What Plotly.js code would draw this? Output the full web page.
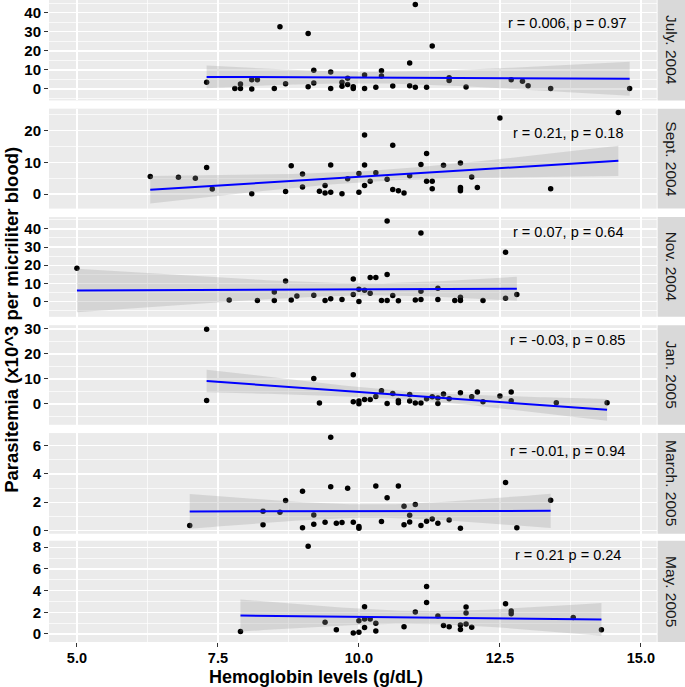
<!DOCTYPE html>
<html>
<head>
<meta charset="utf-8">
<script src="https://cdn.plot.ly/plotly-3.0.1.min.js"></script>
<style>
  html, body { margin: 0; padding: 0; background: #ffffff; }
  #chart { width: 685px; height: 687px; }
</style>
</head>
<body>
<div id="chart"></div>
<script>
// ---------------- DATA ----------------
const panelLabels = ["July. 2004", "Sept. 2004", "Nov. 2004", "Jan. 2005", "March. 2005", "May. 2005"];
const statLabels  = ["r = 0.006, p = 0.97", "r = 0.21, p = 0.18", "r = 0.07, p = 0.64",
                     "r = -0.03, p = 0.85", "r = -0.01, p = 0.94", "r = 0.21 p = 0.24"];

const xTickVals = [5, 7.5, 10, 12.5, 15];
const xTickText = ["5.0", "7.5", "10.0", "12.5", "15.0"];

const yTickVals = [
  [0, 10, 20, 30, 40],
  [0, 10, 20],
  [0, 10, 20, 30, 40],
  [0, 10, 20, 30],
  [0, 2, 4, 6],
  [0, 2, 4, 6, 8]
];
const yTickText = [
  ["0", "10", "20", "30", "40"],
  ["0", "10", "20"],
  ["0", "10", "20", "30", "40"],
  ["0", "10", "20", "30"],
  ["0", "2", "4", "6"],
  ["0", "2", "4", "6", "8"]
];

const julyHb   = [7.3, 7.8, 7.9, 7.9, 8.1, 8.1, 8.2, 8.5, 8.6, 8.7, 9.1, 9.1, 9.2, 9.2, 9.5, 9.5, 9.7, 9.7, 9.8, 9.8, 9.9, 9.9, 10.1, 10.1, 10.3, 10.4, 10.4, 10.6, 10.9, 10.9, 11.0, 11.0, 11.2, 11.3, 11.6, 11.6, 11.9, 12.7, 12.9, 13.0, 13.4, 14.8];
const julyPara = [3.5, 0.2, 0.2, 2.6, 0.0, 4.9, 4.9, 0.3, 32.6, 2.8, 29.1, 1.2, 9.8, 3.1, 8.9, 0.2, 3.5, 1.4, 5.6, 2.3, 1.2, 0.3, 7.3, 0.2, 0.9, 9.6, 6.8, 1.6, 13.6, 1.7, 44.2, 0.9, 0.9, 22.5, 5.9, 4.5, 1.0, 4.9, 4.0, 1.7, 0.2, 0.2];

const septHb   = [6.3, 6.8, 7.1, 7.3, 7.4, 8.1, 8.7, 8.8, 9.0, 9.0, 9.3, 9.4, 9.4, 9.5, 9.5, 9.7, 9.8, 10.0, 10.0, 10.1, 10.1, 10.1, 10.2, 10.3, 10.5, 10.6, 10.6, 10.7, 10.8, 10.9, 11.1, 11.2, 11.2, 11.3, 11.3, 11.5, 11.8, 11.8, 11.8, 11.8, 12.0, 12.1, 12.5, 13.4, 14.6];
const septPara = [5.5, 5.3, 5.0, 8.4, 1.6, 0.1, 0.8, 8.9, 6.3, 2.2, 0.9, 2.7, 0.3, 9.2, 0.6, 0.1, 4.8, 6.5, 0.6, 18.6, 9.2, 2.7, 4.0, 6.7, 4.7, 15.4, 1.4, 1.0, 0.3, 5.8, 9.3, 12.8, 4.0, 4.0, 1.7, 9.1, 9.8, 2.1, 1.6, 1.0, 5.4, 2.1, 24.0, 1.7, 25.7];

const novHb    = [5.0, 7.7, 8.2, 8.5, 8.5, 8.7, 8.8, 8.9, 9.2, 9.4, 9.5, 9.7, 9.9, 9.9, 10.0, 10.0, 10.1, 10.2, 10.2, 10.3, 10.4, 10.5, 10.5, 10.5, 10.6, 10.7, 11.0, 11.1, 11.1, 11.1, 11.4, 11.4, 11.7, 11.8, 11.8, 12.2, 12.6, 12.6, 12.8];
const novPara  = [18.3, 0.9, 0.6, 5.3, 0.6, 11.4, 0.9, 3.1, 3.5, 0.6, 1.5, 1.1, 12.5, 3.9, 6.8, 0.0, 6.2, 13.2, 4.6, 13.2, 0.6, 44.4, 14.9, 0.6, 3.3, 0.4, 0.9, 37.8, 5.7, 1.1, 7.3, 1.1, 0.6, 2.4, 0.6, 0.6, 27.2, 1.8, 3.9];

const janHb    = [7.3, 7.3, 9.2, 9.3, 9.9, 9.9, 10.0, 10.0, 10.1, 10.2, 10.3, 10.4, 10.5, 10.6, 10.7, 10.7, 10.9, 10.9, 11.0, 11.1, 11.2, 11.3, 11.4, 11.4, 11.5, 11.6, 11.8, 12.0, 12.1, 12.2, 12.5, 12.7, 12.7, 13.5, 14.4];
const janPara  = [29.9, 1.3, 10.1, 0.3, 11.6, 0.8, 1.1, 0.0, 1.7, 1.7, 2.9, 5.2, 0.1, 4.1, 1.3, 0.4, 3.7, 1.1, 0.3, 0.3, 2.0, 2.8, 2.3, 0.1, 3.9, 2.0, 4.4, 2.8, 4.7, 0.8, 3.1, 4.7, 1.2, 0.4, 0.4];

const marHb    = [7.0, 8.3, 8.3, 8.6, 8.7, 9.0, 9.0, 9.2, 9.2, 9.4, 9.5, 9.5, 9.6, 9.7, 9.8, 9.9, 10.0, 10.0, 10.3, 10.4, 10.5, 10.7, 10.8, 10.8, 10.9, 10.9, 11.0, 11.1, 11.2, 11.3, 11.4, 11.6, 11.8, 12.6, 12.8, 13.4];
const marPara  = [0.35, 1.36, 0.40, 1.29, 2.12, 2.78, 0.19, 1.10, 0.45, 0.59, 6.59, 3.10, 0.52, 0.56, 2.99, 0.59, 0.28, 0.16, 3.15, 0.64, 2.31, 3.15, 1.72, 0.40, 1.08, 0.61, 1.84, 0.35, 0.66, 0.82, 0.52, 0.75, 0.16, 3.39, 0.19, 2.14];

const mayHb    = [7.9, 9.1, 9.4, 9.6, 9.9, 10.0, 10.0, 10.1, 10.1, 10.1, 10.2, 10.3, 10.3, 10.8, 11.0, 11.2, 11.2, 11.4, 11.5, 11.6, 11.8, 11.8, 11.9, 11.9, 11.9, 12.0, 12.6, 12.7, 12.7, 13.8, 14.3];
const mayPara  = [0.24, 8.10, 1.09, 0.39, 0.09, 0.15, 1.21, 2.51, 1.39, 0.60, 1.39, 1.00, 0.27, 0.66, 2.02, 4.38, 2.90, 1.66, 0.79, 0.66, 0.42, 0.82, 2.48, 1.93, 0.91, 0.63, 2.78, 2.11, 1.87, 1.51, 0.39];

const hbSeries   = [julyHb, septHb, novHb, janHb, marHb, mayHb];
const paraSeries = [julyPara, septPara, novPara, janPara, marPara, mayPara];

// ---------------- statistics: lm fit with 95% confidence band ----------------
function tQuantile975(df) {
  const z = 1.959964;
  const g1 = (Math.pow(z, 3) + z) / 4;
  const g2 = (5 * Math.pow(z, 5) + 16 * Math.pow(z, 3) + 3 * z) / 96;
  const g3 = (3 * Math.pow(z, 7) + 19 * Math.pow(z, 5) + 17 * Math.pow(z, 3) - 15 * z) / 384;
  return z + g1 / df + g2 / (df * df) + g3 / (df * df * df);
}
function lmFit(x, y, nOut) {
  const n = x.length;
  let mx = 0, my = 0;
  for (let i = 0; i < n; i++) { mx += x[i]; my += y[i]; }
  mx /= n; my /= n;
  let sxx = 0, sxy = 0;
  for (let i = 0; i < n; i++) { sxx += (x[i] - mx) ** 2; sxy += (x[i] - mx) * (y[i] - my); }
  const b = sxy / sxx, a = my - b * mx;
  let sse = 0;
  for (let i = 0; i < n; i++) sse += (y[i] - a - b * x[i]) ** 2;
  const s = Math.sqrt(sse / (n - 2));
  const t = tQuantile975(n - 2);
  const xmin = Math.min(...x), xmax = Math.max(...x);
  const xs = [], fitY = [], lo = [], hi = [];
  for (let k = 0; k < nOut; k++) {
    const xv = xmin + (xmax - xmin) * k / (nOut - 1);
    const yv = a + b * xv;
    const se = s * Math.sqrt(1 / n + (xv - mx) ** 2 / sxx);
    xs.push(xv); fitY.push(yv); lo.push(yv - t * se); hi.push(yv + t * se);
  }
  return { xs, fitY, lo, hi };
}

// ---------------- layout geometry ----------------
const W = 685, H = 687;
const ML = 49, MB = 44.7;
const plotW = W - ML, plotH = H - MB;
const panelPx = [[0, 100.5], [108.7, 208.7], [217.2, 317], [325.3, 425], [433.3, 534], [541, 642.3]];
const yRanges = [[-6.0, 46.6], [-4.6, 26.95], [-8.4, 46.5], [-8.4, 31.5], [-0.23, 6.89], [-0.74, 8.6]];
const yMinor  = [5, 5, 5, 5, 1, 1];
const statY   = [34.7, 19.2, 38.5, 25.6, 5.65, 7.3];
const xDomEnd = (656.7 - ML) / plotW;
const stripX0 = (657.6 - ML) / plotW;
const xRange = [4.505, 15.28];

const FONT = "Liberation Sans, Arial, Helvetica, sans-serif";

const traces = [];
const layout = {
  width: W, height: H,
  margin: { l: ML, r: 0, t: 0, b: MB, pad: 0 },
  paper_bgcolor: "#FFFFFF",
  plot_bgcolor: "#EBEBEB",
  showlegend: false,
  hovermode: false,
  font: { family: FONT, color: "#000000" },
  shapes: [],
  annotations: []
};

for (let i = 0; i < 6; i++) {
  const sfx = i === 0 ? "" : String(i + 1);
  const xa = "x" + sfx, ya = "y" + sfx;
  const dTop = 1 - panelPx[i][0] / plotH, dBot = 1 - panelPx[i][1] / plotH;
  const isBottom = (i === 5);

  layout["xaxis" + sfx] = {
    domain: [0, xDomEnd],
    range: xRange,
    anchor: ya,
    tickmode: "array",
    tickvals: xTickVals,
    ticktext: xTickText,
    showticklabels: isBottom,
    ticks: isBottom ? "outside" : "",
    ticklen: 3.5, tickwidth: 1, tickcolor: "#333333",
    ticklabelstandoff: -1,
    tickfont: { family: FONT, size: 14.5, color: "#000000", weight: "bold" },
    showgrid: true, gridcolor: "#FFFFFF", gridwidth: 1.4,
    minor: { tickmode: "linear", tick0: 5, dtick: 1.25, showgrid: true, gridcolor: "#FFFFFF", gridwidth: 0.7, ticks: "" },
    zeroline: false, showline: false, fixedrange: true
  };
  layout["yaxis" + sfx] = {
    domain: [dBot, dTop],
    range: yRanges[i],
    anchor: xa,
    tickmode: "array",
    tickvals: yTickVals[i],
    ticktext: yTickText[i],
    ticks: "outside",
    ticklen: 4, tickwidth: 1, tickcolor: "#333333",
    tickfont: { family: FONT, size: 15, color: "#000000", weight: "bold" },
    showgrid: true, gridcolor: "#FFFFFF", gridwidth: 1.4,
    minor: { tickmode: "linear", tick0: 0, dtick: yMinor[i], showgrid: true, gridcolor: "#FFFFFF", gridwidth: 0.7, ticks: "" },
    zeroline: false, showline: false, fixedrange: true
  };

  const x = hbSeries[i], y = paraSeries[i];
  const f = lmFit(x, y, 80);

  // points first (ribbon is drawn on top, as in ggplot)
  traces.push({
    type: "scatter", mode: "markers", x: x, y: y, xaxis: xa, yaxis: ya,
    marker: { color: "#000000", size: 5.5, line: { width: 0 } },
    cliponaxis: true
  });
  // confidence ribbon
  traces.push({
    type: "scatter", mode: "lines",
    x: f.xs.concat(f.xs.slice().reverse()),
    y: f.hi.concat(f.lo.slice().reverse()),
    xaxis: xa, yaxis: ya,
    fill: "toself", fillcolor: "rgba(153,153,153,0.27)",
    line: { width: 0, color: "rgba(0,0,0,0)" }
  });
  // fitted line
  traces.push({
    type: "scatter", mode: "lines", x: f.xs, y: f.fitY, xaxis: xa, yaxis: ya,
    line: { color: "#0000FF", width: 2 }
  });

  // strip on the right
  layout.shapes.push({
    type: "rect", xref: "paper", yref: "paper",
    x0: stripX0, x1: 1.0, y0: dBot, y1: dTop,
    fillcolor: "#D9D9D9", line: { width: 0 }, layer: "below"
  });
  layout.annotations.push({
    xref: "paper", yref: "paper",
    x: (stripX0 + 1) / 2, y: (dTop + dBot) / 2,
    xanchor: "center", yanchor: "middle",
    text: panelLabels[i], textangle: 90, showarrow: false,
    font: { family: FONT, size: 15.5, color: "#1A1A1A" }
  });
  // r / p label
  layout.annotations.push({
    xref: xa, yref: ya, x: 13.7, y: statY[i],
    xanchor: "center", yanchor: "middle",
    text: statLabels[i], showarrow: false,
    font: { family: FONT, size: 14.5, color: "#000000" }
  });
}

// axis titles
layout.annotations.push({
  xref: "paper", yref: "paper",
  x: (316 - ML) / plotW, y: -(677.5 - plotH) / plotH,
  xanchor: "center", yanchor: "middle",
  text: "Hemoglobin levels (g/dL)", showarrow: false,
  font: { family: FONT, size: 18, color: "#000000", weight: "bold" }
});
layout.annotations.push({
  xref: "paper", yref: "paper",
  x: 0, xshift: -37, y: 1 - 320 / plotH,
  xanchor: "center", yanchor: "middle",
  text: "Parasitemia (x10^3 per micriliter blood)", textangle: -90, showarrow: false,
  font: { family: FONT, size: 18.5, color: "#000000", weight: "bold" }
});

Plotly.newPlot("chart", traces, layout, { staticPlot: true, displayModeBar: false });
</script>
</body>
</html>
